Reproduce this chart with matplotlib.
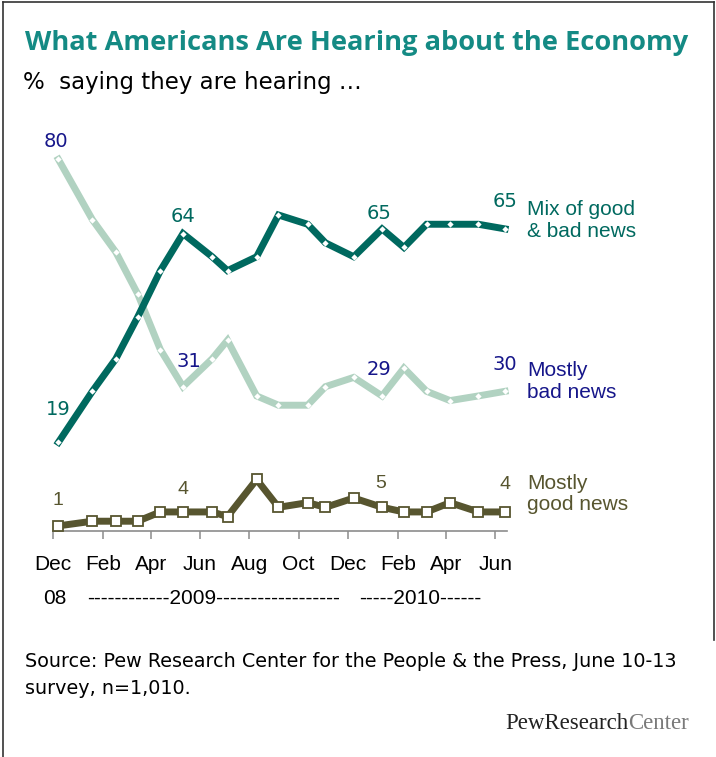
import numpy as np
import pandas as pd
import matplotlib
matplotlib.use("Agg")
import matplotlib.pyplot as plt
from matplotlib.lines import Line2D
import matplotlib.transforms as mtransforms

# survey dates and percentages
dates = pd.to_datetime([
    "2008-12-08", "2009-01-19", "2009-02-17", "2009-03-16", "2009-04-13",
    "2009-05-11", "2009-06-16", "2009-07-05", "2009-08-10", "2009-09-06",
    "2009-10-12", "2009-11-03", "2009-12-08", "2010-01-12", "2010-02-08",
    "2010-03-08", "2010-04-06", "2010-05-11", "2010-06-13",
])
mix = [19, 30, 37, 46, 56, 64, 59, 56, 59, 68, 66, 62, 59, 65, 61, 66, 66, 66, 65]
bad = [80, 67, 60, 51, 39, 31, 37, 41, 29, 27, 27, 31, 33, 29, 35, 30, 28, 29, 30]
good = [1, 2, 2, 2, 4, 4, 4, 3, 11, 5, 6, 5, 7, 5, 4, 4, 6, 4, 4]

tick_dates = pd.to_datetime([
    "2008-12-01", "2009-02-01", "2009-04-01", "2009-06-01", "2009-08-01",
    "2009-10-01", "2009-12-01", "2010-02-01", "2010-04-01", "2010-06-01",
])
tick_labels = ["Dec", "Feb", "Apr", "Jun", "Aug", "Oct", "Dec", "Feb", "Apr", "Jun"]

# which points get a value label, with offsets in points
mix_labels = {0: (0, 24), 5: (0, 12), 13: (-2, 11), 18: (0, 20)}
bad_labels = {0: (-2, 13), 5: (4, 18), 13: (-2, 19), 18: (0, 19)}
good_labels = {0: (0, 18), 5: (0, 16), 13: (-1, 17), 18: (0, 20)}

TEAL = "#00695f"
LIGHT = "#b1d2c1"
OLIVE = "#57552f"
NAVY = "#16168a"
TITLE = "#148a84"

W, H = 716, 757
fig = plt.figure(figsize=(W / 100, H / 100), dpi=100)
renderer = fig.canvas.get_renderer()


def fit_width(txt, width_px):
    # shrink/grow a text so it spans the given pixel width
    w = txt.get_window_extent(renderer=renderer).width
    txt.set_fontsize(txt.get_fontsize() * width_px / w)
    return txt


# plot area: y=0 sits at 530.5px from top, 4.64px per point
x0, x1 = 52.7, 506.7
y_bottom = 530.5
ax = fig.add_axes([x0 / W, (H - y_bottom) / H, (x1 - x0) / W, 90 * 4.64 / H])
ax.set_xlim(pd.Timestamp("2008-12-01"), pd.Timestamp("2010-06-15"))
ax.set_ylim(0, 90)

ax.plot(dates, bad, color=LIGHT, lw=5, solid_joinstyle="miter", zorder=2, clip_on=False,
        marker="D", ms=3.2, mfc="white", mec="white", mew=0)
ax.plot(dates, mix, color=TEAL, lw=5, solid_joinstyle="miter", zorder=3, clip_on=False,
        marker="D", ms=3.2, mfc="white", mec="white", mew=0)
ax.plot(dates, good, color=OLIVE, lw=5, solid_joinstyle="miter", zorder=3, clip_on=False,
        marker="s", ms=7, mfc="white", mec=OLIVE, mew=1.3)


def value_labels(vals, which, color, fam):
    for i, (dx, dy) in which.items():
        ax.annotate(str(vals[i]), (dates[i], vals[i]), xytext=(dx, dy),
                    textcoords="offset points", ha="center", va="center",
                    color=color, fontsize=14, family=fam)


value_labels(mix, mix_labels, TEAL, "DejaVu Sans")
value_labels(bad, bad_labels, NAVY, "DejaVu Sans")
value_labels(good, good_labels, OLIVE, "Liberation Sans")

# series names at right end
lab_kw = dict(textcoords="offset points", ha="left", va="center", fontsize=15,
              family="Liberation Sans", linespacing=1.15)
ax.annotate("Mix of good\n& bad news", (dates[-1], mix[-1]), xytext=(16, 6),
            color=TEAL, **lab_kw)
ax.annotate("Mostly\nbad news", (dates[-1], bad[-1]), xytext=(16, 7),
            color=NAVY, **lab_kw)
ax.annotate("Mostly\ngood news", (dates[-1], good[-1]), xytext=(16, 13),
            color=OLIVE, **lab_kw)

for s in ["top", "right", "left"]:
    ax.spines[s].set_visible(False)
ax.spines["bottom"].set_color("#8c8c8c")
ax.spines["bottom"].set_linewidth(1.2)
ax.set_yticks([])
ax.set_xticks(tick_dates)
ax.set_xticklabels(tick_labels, family="Liberation Sans", fontsize=15)
ax.tick_params(axis="x", direction="out", length=5.5, width=1.1, color="#8c8c8c", pad=12)

# year row under the month labels
trans = mtransforms.blended_transform_factory(ax.transData, fig.transFigure)
yr_y = 1 - 598 / H
yr_kw = dict(transform=trans, ha="center", va="center", fontsize=15, family="Liberation Sans")
ax.text(pd.Timestamp("2008-12-04"), yr_y, "08", **yr_kw)
ax.text(pd.Timestamp("2009-06-18"), yr_y, "------------2009------------------", **yr_kw)
ax.text(pd.Timestamp("2010-02-28"), yr_y, "-----2010------", **yr_kw)

# titles
title = fig.text(25 / W, 1 - 50 / H, "What Americans Are Hearing about the Economy",
                 color=TITLE, fontsize=18, fontweight="bold", family="Open Sans",
                 va="baseline")
fit_width(title, 665)
sub = fig.text(23 / W, 1 - 89 / H, "%  saying they are hearing \u2026",
               color="black", fontsize=15, family="DejaVu Sans", va="baseline")
fit_width(sub, 339)

# source note
src = fig.text(25 / W, 1 - 667 / H,
               "Source: Pew Research Center for the People & the Press, June 10-13",
               fontsize=12.5, family="DejaVu Sans", va="baseline")
fit_width(src, 655)
fig.text(25 / W, 1 - 694 / H, "survey, n=1,010.", fontsize=src.get_fontsize(),
         family="DejaVu Sans", va="baseline")

# logo wordmark
t1 = fig.text(505 / W, 1 - 729 / H, "PewResearch", fontsize=16.5, family="Liberation Serif",
              color="#222222", va="baseline")
bb = t1.get_window_extent(renderer=renderer)
fig.text(bb.x1 / W, 1 - 729 / H, "Center", fontsize=16.5, family="Liberation Serif",
         color="#7a7a7a", va="baseline")

# frame around the graphic
frame_kw = dict(transform=fig.transFigure, color="#333333", lw=1.2)
fig.add_artist(Line2D([2.5 / W, 2.5 / W], [0, 1 - 2 / H], **frame_kw))
fig.add_artist(Line2D([2.5 / W, 714 / W], [1 - 2 / H, 1 - 2 / H], **frame_kw))
fig.add_artist(Line2D([714 / W, 714 / W], [1 - 2 / H, 1 - 640 / H], **frame_kw))

fig.savefig("out.png", dpi=100)
